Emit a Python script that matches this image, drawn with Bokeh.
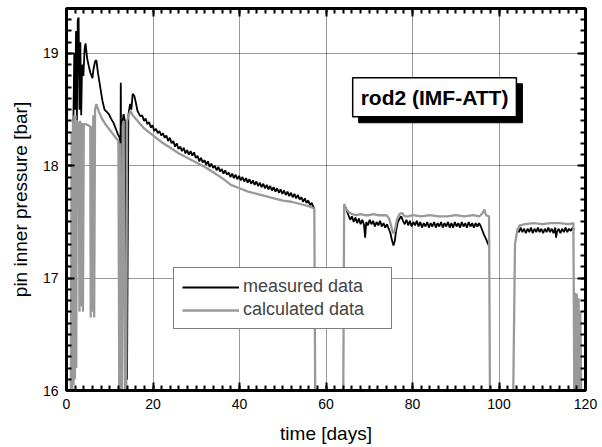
from bokeh.plotting import figure
from bokeh.models import (Range1d, SingleIntervalTicker, LinearAxis, Legend,
                          LegendItem, Label, CustomLabelingPolicy)
from bokeh.embed import file_html
from bokeh.resources import INLINE

NAN = float("nan")

# ---------------- data ----------------
meas1_day = [1.2, 1.4, 1.6, 1.8, 2.0, 2.2, 2.4, 2.6, 2.8, 3.0, 3.2, 3.4, 3.6, 3.9,
             4.2, 4.4, 4.8, 5.2, 5.5, 5.8, 6.0, 6.2, 6.6, 6.9, 7.3, 7.8, 8.3, 8.8,
             9.3, 9.8, 10.3, 10.9, 11.4, 11.9, 12.3, 12.4, 12.5, 12.55, 12.6,
             12.8, 13.0, 13.2, 13.5, 13.7, 14.0, 14.3, 14.7, 15.0, 15.3,
             15.7, 16.1, 16.4, 16.8, 17.1, 17.5, 17.9, 18.3, 18.7, 19.1, 19.5,
             19.9, 20.3, 20.7, 21.1, 21.5, 21.9, 22.3, 22.7, 23.1, 23.5, 23.9,
             24.3, 24.7, 25.1, 25.5, 25.9, 26.3, 26.7, 27.1, 27.5, 27.9, 28.3,
             28.7, 29.1, 29.5, 29.9, 30.3, 30.7, 31.1, 31.5, 31.9, 32.3, 32.7,
             33.1, 33.5, 33.9, 34.3, 34.7, 35.1, 35.5, 35.9, 36.3, 36.7, 37.1,
             37.5, 37.9, 38.3, 38.7, 39.1, 39.5, 39.9, 40.3, 40.7, 41.1, 41.5,
             41.9, 42.3, 42.7, 43.1, 43.5, 43.9, 44.3, 44.7, 45.1, 45.5, 45.9,
             46.3, 46.7, 47.1, 47.5, 47.9, 48.3, 48.7, 49.1, 49.5, 49.9, 50.3,
             50.7, 51.1, 51.5, 51.9, 52.3, 52.7, 53.1, 53.5, 53.9, 54.3, 54.7,
             55.1, 55.5, 55.9, 56.3, 56.7, 57.1, 57.4]
meas1_bar = [17.0, 17.3, 18.4, 19.0, 18.5, 19.2, 18.4, 19.3, 19.32, 18.5, 19.1, 18.45, 18.9, 18.8,
             19.05, 19.09, 18.95, 18.88, 18.83, 18.8, 18.78, 18.85, 18.93, 18.94, 18.82, 18.7, 18.58, 18.5,
             18.48, 18.46, 18.42, 18.38, 18.33, 18.28, 18.25, 16.15, 18.30, 18.74, 18.35,
             16.05, 18.40, 18.46, 18.40, 16.10, 16.10, 18.45, 18.55, 18.50, 18.64,
             18.62, 18.55, 18.49, 18.46, 18.44, 18.45, 18.40, 18.42, 18.37, 18.39, 18.34,
             18.36, 18.31, 18.33, 18.29, 18.31, 18.27, 18.29, 18.25, 18.27, 18.22, 18.25,
             18.20, 18.22, 18.17, 18.20, 18.15, 18.17, 18.13, 18.16, 18.11, 18.14, 18.10,
             18.13, 18.09, 18.12, 18.07, 18.09, 18.04, 18.07, 18.03, 18.05, 18.01, 18.04,
             17.99, 18.02, 17.98, 18.00, 17.96, 17.99, 17.95, 17.97, 17.93, 17.96, 17.92,
             17.94, 17.90, 17.93, 17.89, 17.92, 17.88, 17.91, 17.87, 17.90, 17.86, 17.89,
             17.85, 17.88, 17.84, 17.87, 17.83, 17.86, 17.82, 17.85, 17.81, 17.84, 17.80,
             17.83, 17.79, 17.82, 17.78, 17.81, 17.77, 17.80, 17.76, 17.79, 17.75, 17.78,
             17.74, 17.77, 17.73, 17.76, 17.72, 17.75, 17.71, 17.74, 17.70, 17.72, 17.68,
             17.71, 17.67, 17.69, 17.65, 17.67, 17.63, 17.62]

meas2_day = [64.4, 64.8, 65.2, 65.6, 66.0, 66.4, 66.8, 67.2, 67.6, 68.0, 68.4, 68.8,
             69.05, 69.3, 69.7, 70.1, 70.5, 70.9, 71.3, 71.7, 72.1, 72.5, 72.9, 73.3,
             73.7, 74.1, 74.5, 74.9, 75.3, 75.6, 75.9, 76.2, 76.6, 77.0, 77.4, 77.8,
             78.2, 78.6, 79.0, 79.4, 79.8, 80.2, 80.6, 81.0, 81.4, 81.8, 82.2, 82.6,
             83.0, 83.4, 83.8, 84.2, 84.6, 85.0, 85.4, 85.8, 86.2, 86.6, 87.0, 87.4,
             87.8, 88.2, 88.6, 89.0, 89.4, 89.8, 90.2, 90.6, 91.0, 91.4, 91.8, 92.2,
             92.6, 93.0, 93.4, 93.8, 94.2, 94.6, 95.0, 95.4, 95.8, 96.2, 96.6, 97.0,
             97.4, 97.8]
meas2_bar = [17.64, 17.60, 17.56, 17.52, 17.55, 17.50, 17.54, 17.49, 17.53, 17.48, 17.52, 17.47,
             17.36, 17.50, 17.47, 17.52, 17.48, 17.51, 17.46, 17.50, 17.47, 17.51, 17.46, 17.49,
             17.45, 17.48, 17.44, 17.40, 17.33, 17.29, 17.33, 17.42, 17.50, 17.53, 17.55, 17.51,
             17.48, 17.52, 17.47, 17.51, 17.46, 17.50, 17.47, 17.51, 17.46, 17.50, 17.45, 17.49,
             17.46, 17.50, 17.45, 17.49, 17.46, 17.50, 17.45, 17.49, 17.46, 17.50, 17.45, 17.49,
             17.46, 17.50, 17.45, 17.49, 17.45, 17.50, 17.46, 17.49, 17.45, 17.50, 17.46, 17.49,
             17.45, 17.50, 17.46, 17.49, 17.45, 17.49, 17.46, 17.49, 17.46, 17.42, 17.38, 17.35,
             17.31, 17.28]

meas3_day = [104.2, 104.6, 105.0, 105.4, 105.8, 106.2, 106.6, 107.0, 107.4, 107.8,
             108.2, 108.6, 109.0, 109.4, 109.8, 110.2, 110.6, 111.0, 111.4, 111.8,
             112.2, 112.6, 113.0, 113.2, 113.4, 113.8, 114.2, 114.6, 115.0, 115.4,
             115.8, 116.2, 116.6, 117.0, 117.3]
meas3_bar = [17.44, 17.41, 17.45, 17.41, 17.44, 17.40, 17.44, 17.41, 17.45, 17.40,
             17.44, 17.41, 17.45, 17.41, 17.44, 17.40, 17.44, 17.41, 17.45, 17.41,
             17.44, 17.40, 17.45, 17.36, 17.41, 17.44, 17.40, 17.44, 17.41, 17.45,
             17.41, 17.44, 17.42, 17.45, 17.43]

calc_day = [1.0, 1.2, 1.35, 1.5, 1.65, 1.8, 1.95, 2.1, 2.25, 2.4, 2.8, 3.0, 3.2, 3.4,
            3.6, 3.8, 4.0, 4.5, 5.0, 5.5, 5.6, 5.8, 6.0, 6.2, 6.4, 6.6, 6.9, 7.5,
            8.2, 9.0, 9.8, 10.6, 11.4, 12.0, 12.2, 12.4, 12.6, 12.8, 13.0, 13.2,
            13.5, 13.8, 14.0, 14.4, 14.8, 15.3, 16.4, 18.0, 20.0, 22.0, 24.0, 26.0,
            28.0, 30.0, 32.0, 34.0, 36.0, 38.0, 40.0, 42.0, 44.0, 46.0, 48.0, 50.0,
            52.0, 54.0, 56.0, 57.3, 57.5, 64.0, 64.2, 64.6, 65.2, 66.0, 67.0, 68.0,
            69.0, 70.0, 71.0, 72.0, 73.0, 74.0, 74.6, 75.1, 75.5, 75.9, 76.4, 77.0,
            77.6, 78.2, 79.0, 80.0, 82.0, 84.0, 86.0, 88.0, 90.0, 92.0, 94.0, 95.5,
            96.2, 96.6, 97.0, 97.7, 97.9, 103.3, 103.7, 104.2, 104.8, 106.0, 108.0,
            110.0, 112.0, 114.0, 116.0, 117.2, 117.4, 117.6, 117.8, 118.0, 118.2,
            118.4, 118.6, 118.8, 119.0]
calc_bar = [16.00, 18.30, 16.00, 18.40, 16.05, 18.45, 16.10, 18.45, 16.20, 18.40, 18.38, 16.70, 18.40, 16.75,
            18.38, 16.70, 18.37, 18.37, 18.36, 18.35, 16.65, 18.35, 16.70, 18.45, 16.65, 18.50, 18.55, 18.48,
            18.42, 18.37, 18.33, 18.29, 18.25, 18.22, 16.00, 18.20, 16.00, 16.00, 18.35, 18.40,
            16.00, 16.00, 18.40, 18.45, 18.49, 18.45, 18.40, 18.33, 18.27, 18.21, 18.16, 18.11,
            18.07, 18.03, 17.99, 17.94, 17.89, 17.83, 17.80, 17.77, 17.75, 17.73, 17.71, 17.69,
            17.68, 17.66, 17.64, 17.62, 16.00, 16.00, 17.66, 17.62, 17.59, 17.57, 17.56, 17.57,
            17.56, 17.56, 17.57, 17.56, 17.56, 17.56, 17.53, 17.46, 17.40, 17.42, 17.52, 17.57,
            17.58, 17.55, 17.55, 17.56, 17.55, 17.56, 17.55, 17.55, 17.56, 17.55, 17.56, 17.55,
            17.58, 17.61, 17.56, 17.55, 16.00, 16.00, 17.30, 17.42, 17.47, 17.48, 17.49,
            17.48, 17.49, 17.49, 17.48, 17.49, 16.00, 16.87, 16.00, 16.86, 16.00,
            16.82, 16.00, 16.70, 16.00]

x_ticks_interval = 20
y_ticks_interval = 1

FONT = "Liberation Sans"

# ---------------- figure ----------------
p = figure(width=602, height=447, output_backend="svg", toolbar_location=None,
           x_range=Range1d(0, 120), y_range=Range1d(16, 19.40),
           x_axis_location=None, y_axis_location=None,
           min_border_left=66, min_border_right=17, min_border_top=8,
           min_border_bottom=57)
p.background_fill_color = "white"
p.border_fill_color = "white"
p.outline_line_color = "black"
p.outline_line_width = 3

xt = SingleIntervalTicker(interval=x_ticks_interval, num_minor_ticks=10)
yt = SingleIntervalTicker(interval=y_ticks_interval, num_minor_ticks=10)

x_bottom = LinearAxis(ticker=xt)
y_left = LinearAxis(ticker=yt)
hide_all = CustomLabelingPolicy(code="for (const i of indices) { indices.unset(i) } return indices")
x_top = LinearAxis(ticker=xt, major_label_policy=hide_all,
                   major_label_text_font_size="1px", major_label_standoff=0)
y_right = LinearAxis(ticker=yt, major_label_policy=hide_all,
                     major_label_text_font_size="1px", major_label_standoff=0)
p.add_layout(x_bottom, "below")
p.add_layout(y_left, "left")
p.add_layout(x_top, "above")
p.add_layout(y_right, "right")

for ax in (x_bottom, y_left, x_top, y_right):
    ax.axis_line_color = "black"
    ax.axis_line_width = 3
    ax.major_tick_in = 8
    ax.major_tick_out = 0
    ax.minor_tick_in = 5
    ax.minor_tick_out = 0
    ax.major_tick_line_width = 2
    ax.minor_tick_line_width = 2
    ax.major_tick_line_color = "black"
    ax.minor_tick_line_color = "black"

for ax in (x_bottom, y_left):
    ax.major_label_text_font = FONT
    ax.major_label_text_color = "black"
    ax.major_label_text_font_size = "14px"
    ax.major_label_standoff = 8
    ax.axis_label_text_font = FONT
    ax.axis_label_text_font_size = "19px"
    ax.axis_label_text_font_style = "normal"
    ax.axis_label_text_color = "black"

x_bottom.axis_label = "time [days]"
y_left.axis_label = "pin inner pressure [bar]"
x_bottom.axis_label_standoff = 11
y_left.axis_label_standoff = 9

p.xgrid.ticker = xt
p.ygrid.ticker = yt
p.grid.grid_line_color = "#333333"
p.grid.grid_line_dash = "1 1"
p.grid.grid_line_width = 1

# ---------------- series ----------------
meas_day = meas1_day + [NAN] + meas2_day + [NAN] + meas3_day
meas_bar = meas1_bar + [NAN] + meas2_bar + [NAN] + meas3_bar

r_meas = p.line(meas_day, meas_bar, line_color="black", line_width=1.8)
r_calc = p.line(calc_day, calc_bar, line_color="#999999", line_width=2.3)

legend = Legend(items=[LegendItem(label="measured data", renderers=[r_meas]),
                       LegendItem(label="calculated data", renderers=[r_calc])],
                location=(107, 61), padding=8, spacing=2,
                glyph_width=57, glyph_height=20, label_height=20,
                label_standoff=4, label_width=140,
                label_text_font=FONT, label_text_font_size="18px",
                border_line_color="black", border_line_width=1.5,
                background_fill_color="white", background_fill_alpha=1.0)
p.add_layout(legend, "center")

# title box with drop shadow
title_text = "rod2 (IMF-ATT)"
shadow = Label(x=85.1, y=18.61, text=title_text, text_align="center",
               text_baseline="middle", text_font=FONT, text_font_size="21px",
               text_font_style="bold", text_color="black",
               background_fill_color="black", border_line_color="black",
               padding=8, x_offset=6, y_offset=-6)
box = Label(x=85.1, y=18.61, text=title_text, text_align="center",
            text_baseline="middle", text_font=FONT, text_font_size="21px",
            text_font_style="bold", text_color="black",
            background_fill_color="white", border_line_color="black",
            border_line_width=1.5, padding=8)
p.add_layout(shadow)
p.add_layout(box)

open("out.html", "w").write(file_html(p, INLINE))
